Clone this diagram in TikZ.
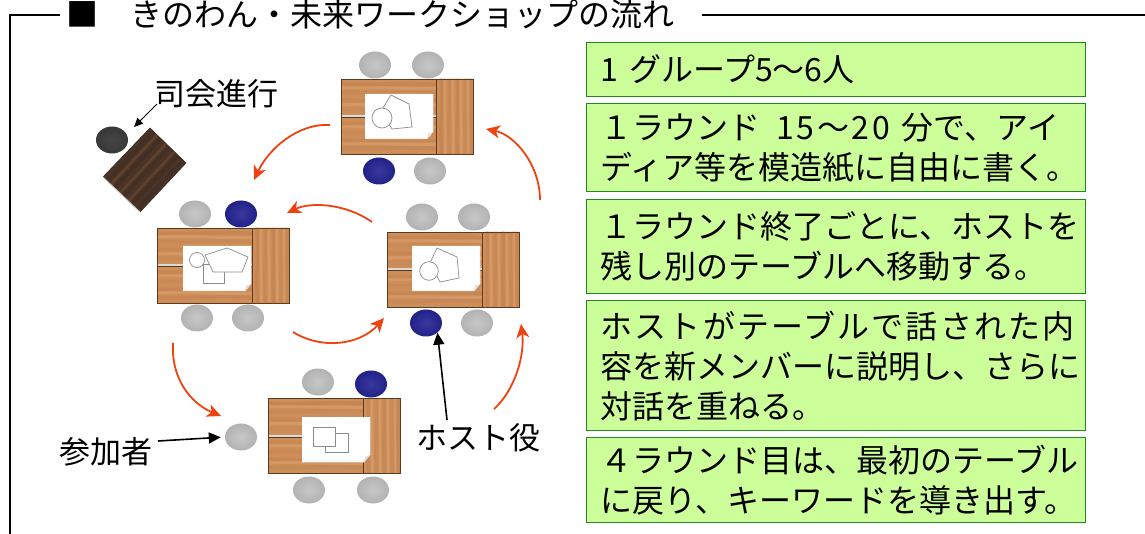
\documentclass[tikz,border=0pt]{standalone}
\usepackage{fontspec}
\setmainfont{Noto Sans CJK JP}
\usetikzlibrary{arrows.meta,shapes.geometric}

\definecolor{woodbase}{RGB}{206,142,90}
\definecolor{woodlight}{RGB}{226,172,122}
\definecolor{wooddark}{RGB}{176,112,64}
\definecolor{woodedge}{RGB}{92,58,32}
\definecolor{darkwood}{RGB}{74,52,40}
\definecolor{darkgrain}{RGB}{52,36,28}
\definecolor{flowred}{RGB}{240,66,16}
\definecolor{notefill}{RGB}{204,255,153}
\definecolor{noteline}{RGB}{34,136,34}
\definecolor{sketch}{RGB}{140,140,140}

\pgfdeclareradialshading{graychairshade}{\pgfpoint{0bp}{0bp}}{rgb(0bp)=(0.78,0.78,0.78); rgb(25bp)=(0.70,0.70,0.70); rgb(50bp)=(0.56,0.56,0.56)}
\pgfdeclareradialshading{hostchairshade}{\pgfpoint{0bp}{0bp}}{rgb(0bp)=(0.22,0.22,0.62); rgb(25bp)=(0.13,0.13,0.53); rgb(50bp)=(0.04,0.04,0.42)}
\pgfdeclareradialshading{mcchairshade}{\pgfpoint{0bp}{0bp}}{rgb(0bp)=(0.27,0.27,0.27); rgb(50bp)=(0.17,0.17,0.17)}

\tikzset{
  chair/.style={ellipse, minimum width=32pt, minimum height=27pt, inner sep=0pt},
  graychair/.style={chair, shade, shading=graychairshade},
  hostchair/.style={chair, shade, shading=hostchairshade},
  mcchair/.style={chair, shade, shading=mcchairshade},
  flow/.style={draw=flowred, line width=1.8pt, -{Stealth[length=14pt, width=13pt, inset=4pt]}},
  pointer/.style={draw=black, line width=1.6pt, -{Triangle[length=12pt, width=11pt]}},
  thinpointer/.style={draw=black, line width=1pt, -{Triangle[length=9pt, width=8pt]}},
  calltext/.style={inner sep=1pt, font=\fontsize{31}{36}\selectfont},
  stepnote/.style={draw=noteline, line width=1.2pt, fill=notefill, minimum width=499pt,
    text width=471pt, inner xsep=14pt, inner ysep=0pt, align=left, anchor=north west,
    font=\fontsize{32}{40}\selectfont},
  sketchline/.style={draw=sketch, line width=.7pt},
  pics/worktable/.style={code={
    % long board, horizontal grain
    \fill[woodbase] (0,0) rectangle (95,75);
    \begin{scope}
      \clip (0,0) rectangle (95,75);
      \foreach \yy/\op in {5/.25,13/.15,21/.2,30/.12,44/.2,53/.12,61/.22,69/.18}
        \draw[wooddark, opacity=\op, line width=4pt]
          (-2,\yy) .. controls (30,\yy+2.5) and (60,\yy-2.5) .. (97,\yy+1);
      \foreach \yy in {9,26,48,65}
        \draw[woodlight, opacity=.35, line width=3pt]
          (-2,\yy) .. controls (35,\yy-2) and (65,\yy+2) .. (97,\yy);
    \end{scope}
    % end board, vertical grain
    \fill[woodbase] (95,0) rectangle (132,75);
    \begin{scope}
      \clip (95,0) rectangle (132,75);
      \foreach \xx/\op in {100/.25,108/.18,116/.25,124/.15,130/.22}
        \draw[wooddark, opacity=\op, line width=3.5pt]
          (\xx,-2) .. controls (\xx+2,25) and (\xx-2,50) .. (\xx+1,77);
      \foreach \xx in {104,112,120,127}
        \draw[woodlight, opacity=.35, line width=2.5pt]
          (\xx,-2) .. controls (\xx-1.5,25) and (\xx+1.5,50) .. (\xx,77);
    \end{scope}
    % joint between the two halves of the long board
    \draw[gray!30, line width=2pt] (0,37.5) -- (95,37.5);
    \draw[woodedge, line width=.6pt] (0,38.8) -- (95,38.8);
    \draw[woodedge, line width=.9pt] (0,0) rectangle (132,75) (95,0) -- (95,75);
  }},
  pics/sheet/.style={code={
    \fill[white] (0,0) -- (68,0) -- (68,38) -- (62,45) -- (0,45) -- cycle;
    \draw[gray!30, line width=.5pt] (68,0) -- (68,38) -- (62,45) -- (0,45);
    \fill[gray!25] (62,45) -- (68,38) -- (63,39.5) -- cycle;
  }}
}

\begin{document}
\begin{tikzpicture}[x=1pt, y=-1pt]
\useasboundingbox (0,0) rectangle (1145,534);

% frame and heading
\draw[line width=1.2pt] (10,540) -- (10,15) -- (60,15);
\draw[line width=1.2pt] (702,15) -- (1150,15);
\node[anchor=base west, inner sep=0pt, font=\fontsize{32}{36}\selectfont] (title) at (66,27)
  {■　きのわん・未来ワークショップの流れ};

% chairs
\node[graychair] (c1a) at (375,65) {};
\node[graychair] (c1b) at (428,65) {};
\node[hostchair] (c1h) at (379,171) {};
\node[graychair] (c1c) at (430,171) {};

\node[graychair] (c2a) at (195,214) {};
\node[hostchair] (c2h) at (241,214) {};
\node[graychair] (c2b) at (197,318) {};
\node[graychair] (c2c) at (248,318) {};

\node[graychair] (c3a) at (422,217) {};
\node[graychair] (c3b) at (474,217) {};
\node[hostchair] (c3h) at (426,323) {};
\node[graychair] (c3c) at (477,323) {};

\node[graychair] (c4a) at (318,382) {};
\node[hostchair] (c4h) at (371,384) {};
\node[graychair] (c4b) at (309,490) {};
\node[graychair] (c4c) at (373,490) {};
\node[graychair] (c4l) at (241,437) {};

\node[mcchair] (mc) at (112,140) {};

% chair-person's table
\fill[darkwood] (150,128) -- (186,163) -- (140,212) -- (103,177) -- cycle;
\begin{scope}
  \clip (150,128) -- (186,163) -- (140,212) -- (103,177) -- cycle;
  \foreach \t/\op in {.1/.3,.3/.35,.55/.25,.78/.35,.92/.25}
    \draw[darkgrain, opacity=\op, line width=4pt] (150+36*\t,128+35*\t) -- ++(-46,49);
  \foreach \t in {.2,.45,.68}
    \draw[brown!50!darkwood, opacity=.35, line width=2.5pt] (150+36*\t,128+35*\t) -- ++(-46,49);
\end{scope}
\draw[darkgrain, line width=.6pt] (103,177) -- (150,128) -- (186,163) -- (140,212);
\draw[white!70!darkwood, line width=.8pt] (103,177) -- (140,212);

% group tables
\pic (t1) at (341,79) {worktable};
\pic (t2) at (157,228) {worktable};
\pic (t3) at (387,232) {worktable};
\pic (t4) at (268,398) {worktable};

% sheets of paper with sketches
\pic (p1) at (365,94) {sheet};
\draw[sketchline] (391,95) -- (409,104) -- (412,127) -- (392,129) -- (381,111) -- cycle;
\draw[sketchline, fill=white] (382,118) circle[radius=10];

\pic (p2) at (183,246) {sheet};
\draw[sketchline] (197,260) circle[radius=7.5];
\draw[sketchline] (203,264) rectangle (224,283);
\draw[sketchline, fill=white] (205,255) -- (227,248) -- (248,257) -- (242,272) -- (213,272) -- cycle;

\pic (p3) at (412,246) {sheet};
\draw[sketchline] (437,248) -- (457,257) -- (459,278) -- (440,282) -- (430,263) -- cycle;
\draw[sketchline, fill=white] (429,271) circle[radius=9.3];

\pic (p4) at (302,417) {sheet};
\draw[sketchline, fill=white] (325,433) rectangle (348,452);
\draw[sketchline, fill=white] (313,427) rectangle (335,446);

% rotation of the groups between tables
\coordinate (f1s) at (330,125);  \coordinate (f1e) at (254,180);
\coordinate (f2s) at (540,200);  \coordinate (f2e) at (486,129);
\coordinate (f3s) at (372,222);  \coordinate (f3e) at (287,213);
\coordinate (f4s) at (173,343);  \coordinate (f4e) at (221,416);
\coordinate (f5s) at (293,332);  \coordinate (f5e) at (384,318);
\coordinate (f6s) at (494,409);  \coordinate (f6e) at (521,324);
\draw[flow] (f1s) .. controls (297,123) and (268,150) .. (f1e);
\draw[flow] (f2s) .. controls (540,165) and (515,135) .. (f2e);
\draw[flow] (f3s) .. controls (345,203) and (310,202) .. (f3e);
\draw[flow] (f4s) .. controls (171,378) and (190,403) .. (f4e);
\draw[flow] (f5s) .. controls (322,350) and (360,345) .. (f5e);
\draw[flow] (f6s) .. controls (515,390) and (525,355) .. (f6e);

% callouts
\node[calltext] (mclabel) at (216,94) {司会進行};
\node[calltext] (guestlabel) at (106,452) {参加者};
\node[calltext] (hostlabel) at (478,438) {ホスト役};
\coordinate (mcfrom) at (157,104);
\coordinate (mcto) at (134,127);
\coordinate (guestfrom) at (158,441);
\coordinate (hostfrom) at (447,420);
\draw[thinpointer] (mcfrom) -- (mcto);
\draw[pointer, shorten >=4pt] (guestfrom) -- (c4l.west);
\draw[pointer] (hostfrom) -- (c3h.south east);

% steps of the workshop
\node[stepnote, minimum height=54pt] (note1) at (586,42) {1 グループ5～6人};
\node[stepnote, minimum height=88pt] (note2) at (586,103)
  {１ラウンド\hspace{16pt}{\addfontfeature{LetterSpace=8}15～20}\hspace{12pt}分で、アイ\\ディア等を模造紙に自由に書く。};
\node[stepnote, minimum height=94pt] (note3) at (586,199)
  {１ラウンド終了ごとに、ホストを\\残し別のテーブルへ移動する。};
\node[stepnote, minimum height=130pt] (note4) at (586,300)
  {{\addfontfeature{LetterSpace=6.7}ホストがテーブルで話された内}\\容を新メンバーに説明し、さらに\\対話を重ねる。};
\node[stepnote, minimum height=85pt] (note5) at (586,437)
  {４ラウンド目は、最初のテーブル\\に戻り、キーワードを導き出す。};
\end{tikzpicture}
\end{document}
